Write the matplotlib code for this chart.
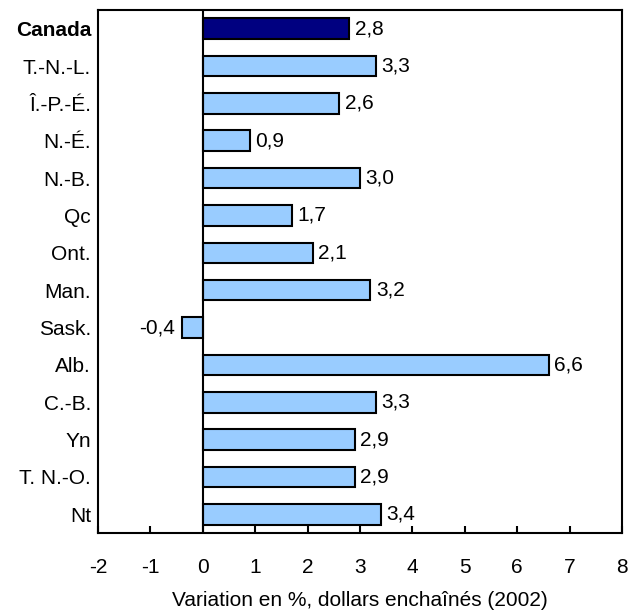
import matplotlib
matplotlib.use("Agg")
import matplotlib.pyplot as plt

categories = ["Canada", "T.-N.-L.", "Î.-P.-É.", "N.-É.", "N.-B.", "Qc", "Ont.", "Man.",
              "Sask.", "Alb.", "C.-B.", "Yn", "T. N.-O.", "Nt"]
values = [2.8, 3.3, 2.6, 0.9, 3.0, 1.7, 2.1, 3.2, -0.4, 6.6, 3.3, 2.9, 2.9, 3.4]
xticks = [-2, -1, 0, 1, 2, 3, 4, 5, 6, 7, 8]

FS = 15
plt.rcParams['font.family'] = ['Liberation Sans', 'DejaVu Sans']
fig = plt.figure(figsize=(6.29, 6.16), dpi=100)
ax = fig.add_axes([0.1558, 0.1347, 0.8330, 0.8491])

ypos = list(range(len(categories)))
colors = ["#000080"] + ["#99CCFF"] * (len(categories) - 1)
ax.barh(ypos, values, height=0.55, color=colors, edgecolor="black", linewidth=1.5, zorder=3)
ax.axvline(0, color="black", linewidth=1.5, zorder=4)

for y, v in zip(ypos, values):
    lab = f"{v:.1f}".replace(".", ",")
    if v >= 0:
        ax.annotate(lab, (v, y), xytext=(4, 0), textcoords="offset points",
                    ha="left", va="center", fontsize=FS)
    else:
        ax.annotate(lab, (v, y), xytext=(-5, 0), textcoords="offset points",
                    ha="right", va="center", fontsize=FS)

ax.set_xlim(-2, 8)
ax.set_ylim(len(categories) - 0.5, -0.5)
ax.set_xticks(xticks)
ax.set_xticklabels([str(t) for t in xticks], fontsize=FS)
ax.tick_params(axis="x", direction="in", length=5, width=1.5, pad=18)
ax.set_yticks(ypos)
ax.set_yticklabels(categories, fontsize=FS)
ax.tick_params(axis="y", length=0, pad=5)
ax.get_yticklabels()[0].set_fontweight("bold")
for s in ax.spines.values():
    s.set_linewidth(1.5)
ax.set_xlabel("Variation en %, dollars enchaînés (2002)", fontsize=FS, labelpad=10)

fig.savefig("out.png", dpi=100)
